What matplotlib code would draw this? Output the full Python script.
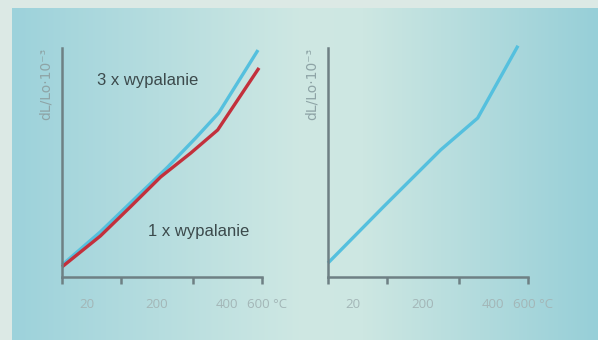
import numpy as np
import matplotlib
matplotlib.use("Agg")
import matplotlib.pyplot as plt
from matplotlib.colors import LinearSegmentedColormap
from matplotlib.transforms import blended_transform_factory

# Data (x in °C scale, y in arbitrary dL/Lo units)
left_temp_3x = [0, 115, 214, 317, 401, 470, 588]
left_exp_3x = [0.52, 1.97, 3.36, 4.80, 6.07, 7.16, 9.91]
left_temp_1x = [0, 115, 205, 296, 386, 467, 591]
left_exp_1x = [0.44, 1.79, 3.06, 4.37, 5.41, 6.42, 9.13]
right_temp = [0, 166, 338, 449, 570]
right_exp = [0.61, 3.06, 5.55, 6.94, 10.1]

tick_positions = [0, 178, 392, 600]
tick_labels = ["20", "200", "400", "600 °C"]
label_positions = [75, 285, 495, 615]

OUTER = "#dce9e5"
AXIS = "#6e8084"
TICKTXT = "#a3b6b7"
BLUE = "#55c0de"
RED = "#c3303c"
TEXT = "#3c4a4c"

W, H = 598, 340
fig = plt.figure(figsize=(W / 100, H / 100), dpi=100, facecolor=OUTER)

# gradient panel
bg = fig.add_axes([12 / W, 0, 1 - 12 / W, 332 / H])
cmap = LinearSegmentedColormap.from_list(
    "bg", [(0, "#9dd2db"), (0.5, "#cfe8e3"), (0.6, "#cde7e2"), (1, "#97cfd8")])
grad = np.linspace(0, 1, 256).reshape(1, -1)
bg.imshow(grad, aspect="auto", cmap=cmap, extent=[0, 1, 0, 1])
bg.axis("off")


def make_panel(left_px):
    ax = fig.add_axes([left_px / W, (H - 277) / H, 200 / W, 229 / H])
    ax.set_facecolor("none")
    ax.set_xlim(0, 600)
    ax.set_ylim(0, 10)
    for s in ["top", "right"]:
        ax.spines[s].set_visible(False)
    for s in ["left", "bottom"]:
        ax.spines[s].set_color(AXIS)
        ax.spines[s].set_linewidth(1.8)
    ax.set_xticks(tick_positions)
    ax.set_xticklabels([])
    ax.set_yticks([])
    ax.tick_params(axis="x", direction="out", length=5, width=1.8, color=AXIS)
    tr = blended_transform_factory(ax.transData, ax.transAxes)
    for pos, lab in zip(label_positions, tick_labels):
        ax.text(pos, -0.122, lab, transform=tr, ha="center", va="center",
                fontsize=9.5, color=TICKTXT, family="Open Sans")
    ax.text(-0.082, 1.0, "dL/Lo·10⁻³", transform=ax.transAxes, rotation=90,
            ha="center", va="top", fontsize=10, color="#8ea4a6",
            family="DejaVu Sans")
    return ax


ax1 = make_panel(62)
ax1.plot(left_temp_3x, left_exp_3x, color=BLUE, lw=2.4, clip_on=False,
         solid_capstyle="butt")
ax1.plot(left_temp_1x, left_exp_1x, color=RED, lw=2.4, clip_on=False,
         solid_capstyle="butt")
ax1.text(105, 8.56, "3 x wypalanie", ha="left", va="center", fontsize=12,
         color=TEXT, family="Liberation Sans")
ax1.text(259, 1.97, "1 x wypalanie", ha="left", va="center", fontsize=12,
         color=TEXT, family="Liberation Sans")

ax2 = make_panel(328)
ax2.plot(right_temp, right_exp, color=BLUE, lw=2.4, clip_on=False,
         solid_capstyle="butt")

fig.savefig("out.png", dpi=100, facecolor=OUTER)
